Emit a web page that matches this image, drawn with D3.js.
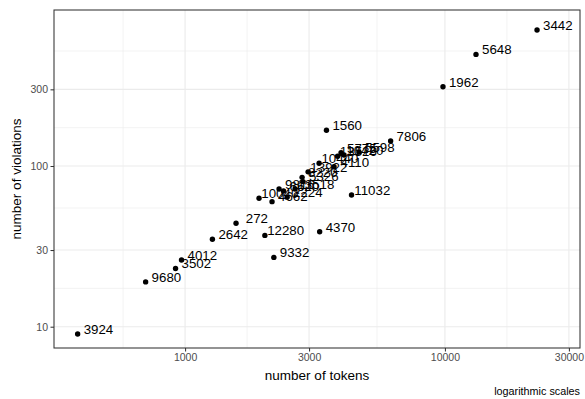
<!DOCTYPE html>
<html>
<head>
<meta charset="utf-8">
<script src="https://cdn.jsdelivr.net/npm/d3@7"></script>
<style>
  html, body { margin: 0; padding: 0; background: #fff; }
  svg { display: block; font-family: "Liberation Sans", Arial, Helvetica, sans-serif; }
</style>
</head>
<body>
<svg id="chart" width="585" height="399"></svg>
<script>
// Submissions: id, token count, violation count
const ids = ["3442", "5648", "1962", "1560", "7806", "5775", "5598", "13526", "10420",
  "10440", "4110", "13922", "8220", "5326", "13518", "9816", "6620", "2224", "10040",
  "4662", "11032", "4370", "272", "2642", "12280", "9332", "4012", "3502", "9680", "3924"];
const tokens = [22620, 13170, 9830, 3500, 6180, 3984, 4672, 3862, 4090,
  3279, 3744, 2974, 2820, 2844, 2650, 2300, 2393, 2469, 1926,
  2161, 4371, 3296, 1571, 1274, 2028, 2196, 969, 919, 705, 386];
const violations = [702, 495, 311, 167, 143, 121, 122, 115, 117,
  104, 99, 92, 85, 80, 72, 72, 70, 64, 63,
  60, 66, 39, 44, 35, 37, 27, 26, 23, 19, 9];

const xTicks = [1000, 3000, 10000, 30000];
const yTicks = [10, 30, 100, 300];
const xLimits = [313, 33100];
const yLimits = [7.37, 935];

const xTitle = "number of tokens";
const yTitle = "number of violations";
const caption = "logarithmic scales";

const panel = { left: 54, right: 580, top: 10, bottom: 348 };

const svg = d3.select("#chart");

const x = d3.scaleLog().domain(xLimits).range([panel.left, panel.right]);
const y = d3.scaleLog().domain(yLimits).range([panel.bottom, panel.top]);

// minor breaks sit halfway (in log space) between neighbouring major breaks,
// with one extra major step added on each side so the edges get theirs too
function minorBreaks(majors, domain) {
  const n = majors.length;
  const ext = [majors[0] * majors[0] / majors[1], ...majors,
    majors[n - 1] * majors[n - 1] / majors[n - 2]];
  const out = [];
  for (let i = 0; i < ext.length - 1; i++) {
    const m = Math.sqrt(ext[i] * ext[i + 1]);
    if (m > domain[0] && m < domain[1]) out.push(m);
  }
  return out;
}
const xMinor = minorBreaks(xTicks, xLimits);
const yMinor = minorBreaks(yTicks, yLimits);

function vLines(g, values, width) {
  g.append("g").selectAll("line").data(values).join("line")
    .attr("x1", d => x(d)).attr("x2", d => x(d))
    .attr("y1", panel.top).attr("y2", panel.bottom)
    .attr("stroke", "#EBEBEB").attr("stroke-width", width);
}
function hLines(g, values, width) {
  g.append("g").selectAll("line").data(values).join("line")
    .attr("y1", d => y(d)).attr("y2", d => y(d))
    .attr("x1", panel.left).attr("x2", panel.right)
    .attr("stroke", "#EBEBEB").attr("stroke-width", width);
}
const grid = svg.append("g").attr("class", "grid");
vLines(grid, xMinor, 0.6);
hLines(grid, yMinor, 0.6);
vLines(grid, xTicks, 1.1);
hLines(grid, yTicks, 1.1);

// axes
const xAxis = svg.append("g")
  .attr("transform", `translate(0,${panel.bottom})`)
  .call(d3.axisBottom(x).tickValues(xTicks).tickFormat(d3.format("d"))
    .tickSizeOuter(0).tickSizeInner(3.5).tickPadding(2));
const yAxis = svg.append("g")
  .attr("transform", `translate(${panel.left},0)`)
  .call(d3.axisLeft(y).tickValues(yTicks).tickFormat(d3.format("d"))
    .tickSizeOuter(0).tickSizeInner(3.5).tickPadding(2.5));
[xAxis, yAxis].forEach(g => {
  g.select(".domain").remove();
  g.selectAll(".tick line").attr("stroke", "#333333").attr("stroke-width", 1.05);
  g.selectAll(".tick text").attr("fill", "#4D4D4D")
    .style("font-size", "10.5px").style("font-family", "'Liberation Sans', Arial, sans-serif");
});

// panel border
svg.append("rect")
  .attr("x", panel.left).attr("y", panel.top)
  .attr("width", panel.right - panel.left).attr("height", panel.bottom - panel.top)
  .attr("fill", "none").attr("stroke", "#333333").attr("stroke-width", 1.05);

const data = ids.map((id, i) => ({ id, tokens: tokens[i], violations: violations[i] }));

// points first, then the id labels on top
svg.append("g").selectAll("circle").data(data).join("circle")
  .attr("cx", d => x(d.tokens)).attr("cy", d => y(d.violations))
  .attr("r", 2.7).attr("fill", "#000");

// labels nudged right and up in log space
const nudgeX = 0.08, nudgeY = 0.031;
svg.append("g").selectAll("text").data(data).join("text")
  .attr("x", d => x(d.tokens * Math.pow(10, nudgeX)))
  .attr("y", d => y(d.violations * Math.pow(10, nudgeY)))
  .attr("dy", "0.36em")
  .attr("text-anchor", "middle")
  .attr("fill", "#000")
  .style("font-size", "13.3px")
  .text(d => d.id);

// titles
svg.append("text")
  .attr("x", (panel.left + panel.right) / 2).attr("y", 380)
  .attr("text-anchor", "middle").attr("fill", "#000")
  .style("font-size", "13.5px").text(xTitle);
svg.append("text")
  .attr("transform", `translate(21,${(panel.top + panel.bottom) / 2}) rotate(-90)`)
  .attr("text-anchor", "middle").attr("fill", "#000")
  .style("font-size", "13.5px").text(yTitle);
svg.append("text")
  .attr("x", panel.right).attr("y", 395)
  .attr("text-anchor", "end").attr("fill", "#000")
  .style("font-size", "10.8px").text(caption);
</script>
</body>
</html>
